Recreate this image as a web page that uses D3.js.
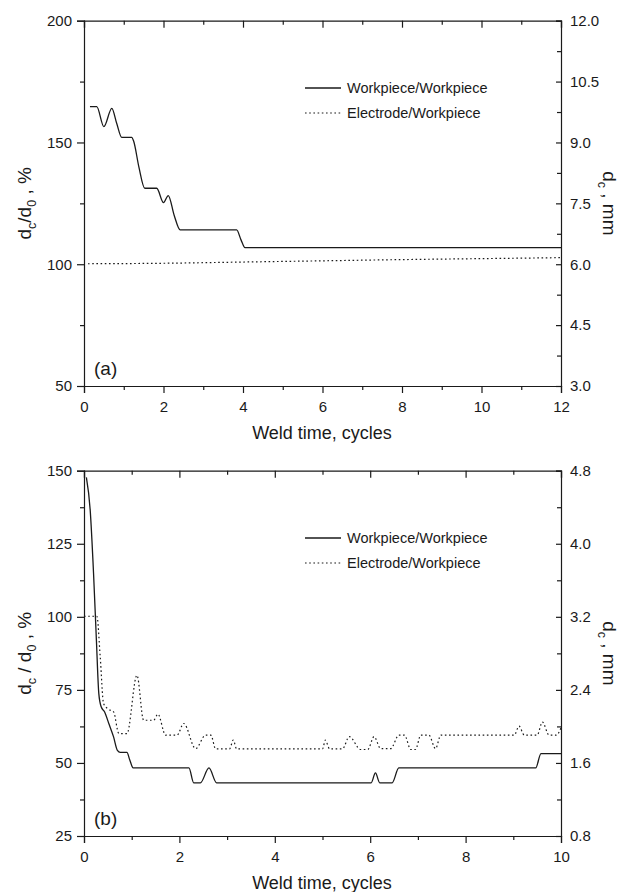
<!DOCTYPE html>
<html>
<head>
<meta charset="utf-8">
<script src="https://cdn.jsdelivr.net/npm/d3@7"></script>
<style>
  body { margin: 0; background: #fff; }
  svg { display: block; font-family: "Liberation Sans", Arial, sans-serif; }
  .axis path, .axis line { stroke: #1a1a1a; stroke-width: 1.2; }
  .axis text { font-size: 15px; fill: #1a1a1a; }
  .curve { fill: none; stroke: #1a1a1a; stroke-width: 1.3; }
  .dotted { stroke-dasharray: 1.6, 2.6; stroke-width: 1.2; }
</style>
</head>
<body>
<script>
// panel (a): contact diameter vs weld time, 0-12 cycles
const workA_t = [0.15, 0.32, 0.5, 0.7, 0.82, 0.95, 1.2, 1.25, 1.38, 1.53, 1.83, 2.0, 2.12, 2.27, 2.42, 3.84, 3.95, 4.05, 12];
const workA_v = [164.7, 164.7, 156.5, 164, 158, 152.1, 152.1, 150.5, 140, 131.2, 131.2, 125.3, 128.2, 120, 114.1, 114.1, 110, 106.8, 106.8];
const elecA_t = [0.1, 2, 4, 6, 8, 10, 12];
const elecA_v = [100.2, 100.4, 100.9, 101.4, 101.9, 102.3, 102.7];

// panel (b): 0-10 cycles
const workB_t = [0.05, 0.13, 0.2, 0.26, 0.31, 0.36, 0.43, 0.52, 0.62, 0.7, 0.76, 0.9, 0.96, 1.03, 2.2, 2.3, 2.44, 2.62, 2.78, 6.02, 6.11, 6.2, 6.46, 6.6, 9.47, 9.58, 10];
const workB_v = [147.7, 136.5, 114.9, 92, 73.8, 69.2, 67.5, 63.5, 58.9, 54.3, 53.6, 53.6, 51, 48.3, 48.3, 43.2, 43.2, 48.3, 43.2, 43.2, 46.6, 43.2, 43.2, 48.3, 48.3, 53.2, 53.2];
const elecB_t = [0, 0.27, 0.34, 0.41, 0.5, 0.62, 0.73, 0.9, 1.11, 1.25, 1.46, 1.55, 1.71, 1.95, 2.09, 2.34, 2.55, 2.66, 2.76, 3.05, 3.13, 3.2, 5.0, 5.06, 5.15, 5.42, 5.56, 5.8, 5.95, 6.08, 6.22, 6.43, 6.6, 6.72, 6.85, 6.95, 7.06, 7.23, 7.37, 7.48, 9.02, 9.12, 9.23, 9.5, 9.61, 9.75, 9.9, 10];
const elecB_v = [100.2, 100.2, 86.3, 70.3, 68.5, 67.5, 60.1, 60, 80, 64.6, 64.6, 66.7, 59.5, 59.5, 63.5, 54.9, 59.5, 59.5, 54.8, 54.8, 57.8, 54.8, 54.8, 57.8, 54.8, 54.8, 59, 54.6, 54.6, 59, 54.9, 54.9, 59.5, 59.5, 54.6, 54.6, 59.5, 59.5, 54.9, 59.5, 59.5, 62.6, 59.5, 59.5, 64, 59.5, 59.5, 62];

const legendLabels = ["Workpiece/Workpiece", "Electrode/Workpiece"];

// axis tick values
const xTicksA = [0, 2, 4, 6, 8, 10, 12];
const xMinorA = [1, 3, 5, 7, 9, 11];
const yTicksA = [50, 100, 150, 200];
const yMinorA = [75, 125, 175];
const rTicksA = [3.0, 4.5, 6.0, 7.5, 9.0, 10.5, 12.0];
const rMinorA = [3.75, 5.25, 6.75, 8.25, 9.75, 11.25];

const xTicksB = [0, 2, 4, 6, 8, 10];
const xMinorB = [1, 3, 5, 7, 9];
const yTicksB = [25, 50, 75, 100, 125, 150];
const yMinorB = [37.5, 62.5, 87.5, 112.5, 137.5];
const rTicksB = [0.8, 1.6, 2.4, 3.2, 4.0, 4.8];
const rMinorB = [1.2, 2.0, 2.8, 3.6, 4.4];

const W = 631, H = 892;
const svg = d3.select("body").append("svg").attr("width", W).attr("height", H);

function drawPanel(p) {
  const x = d3.scaleLinear().domain(p.xDomain).range([84, 561]);
  const y = d3.scaleLinear().domain(p.yDomain).range([p.bottom, p.top]);
  const yr = d3.scaleLinear().domain(p.rDomain).range([p.bottom, p.top]);
  const g = svg.append("g");

  const clipId = "clip-" + p.name;
  g.append("clipPath").attr("id", clipId)
    .append("rect").attr("x", 84).attr("y", p.top).attr("width", 477).attr("height", p.bottom - p.top);

  // bottom axis (ticks out)
  g.append("g").attr("class", "axis").attr("transform", `translate(0,${p.bottom})`)
    .call(d3.axisBottom(x).tickValues(p.xTicks).tickFormat(d3.format("d")).tickSize(7).tickPadding(8));
  g.append("g").attr("class", "axis").attr("transform", `translate(0,${p.bottom})`)
    .call(d3.axisBottom(x).tickValues(p.xMinor).tickFormat("").tickSize(4))
    .select(".domain").remove();
  // top axis (ticks in)
  g.append("g").attr("class", "axis").attr("transform", `translate(0,${p.top})`)
    .call(d3.axisTop(x).tickValues(p.xTicks).tickFormat("").tickSize(-7));
  g.append("g").attr("class", "axis").attr("transform", `translate(0,${p.top})`)
    .call(d3.axisTop(x).tickValues(p.xMinor).tickFormat("").tickSize(-4))
    .select(".domain").remove();
  // left axis (ticks out)
  g.append("g").attr("class", "axis").attr("transform", "translate(84,0)")
    .call(d3.axisLeft(y).tickValues(p.yTicks).tickFormat(d3.format("d")).tickSize(7).tickPadding(5));
  g.append("g").attr("class", "axis").attr("transform", "translate(84,0)")
    .call(d3.axisLeft(y).tickValues(p.yMinor).tickFormat("").tickSize(4))
    .select(".domain").remove();
  // right axis (ticks in)
  g.append("g").attr("class", "axis").attr("transform", "translate(561,0)")
    .call(d3.axisRight(yr).tickValues(p.rTicks).tickFormat(d3.format(".1f")).tickSize(-5).tickPadding(9));
  g.append("g").attr("class", "axis").attr("transform", "translate(561,0)")
    .call(d3.axisRight(yr).tickValues(p.rMinor).tickFormat("").tickSize(-4))
    .select(".domain").remove();
  g.selectAll(".axis .domain").attr("fill", "none");

  const line = d3.line().x(d => x(d[0])).y(d => y(d[1])).curve(d3.curveMonotoneX);
  const plot = g.append("g").attr("clip-path", `url(#${clipId})`);
  plot.append("path").attr("class", "curve")
    .attr("d", line(d3.zip(p.work_t, p.work_v)));
  plot.append("path").attr("class", "curve dotted")
    .attr("d", line(d3.zip(p.elec_t, p.elec_v)));

  // legend
  const lg = g.append("g");
  legendLabels.forEach((lab, i) => {
    const ly = p.legendY + i * 25;
    lg.append("line").attr("class", "curve" + (i ? " dotted" : ""))
      .attr("x1", 305).attr("x2", 341).attr("y1", ly).attr("y2", ly);
    lg.append("text").attr("x", 347).attr("y", ly).attr("dy", "0.35em")
      .attr("font-size", 14.5).attr("fill", "#1a1a1a").text(lab);
  });

  // panel tag
  g.append("text").attr("x", 94).attr("y", p.bottom - 18).attr("dy", "0.35em")
    .attr("font-size", 19).attr("fill", "#1a1a1a").text(p.tag);

  // x title
  g.append("text").attr("x", 322).attr("y", p.bottom + 53)
    .attr("text-anchor", "middle").attr("font-size", 18).attr("fill", "#1a1a1a")
    .text("Weld time, cycles");

  const mid = (p.top + p.bottom) / 2;
  // left title
  const lt = g.append("text").attr("transform", `translate(31,${mid}) rotate(-90)`)
    .attr("text-anchor", "middle").attr("font-size", 19).attr("fill", "#1a1a1a");
  lt.append("tspan").text("d");
  lt.append("tspan").attr("font-size", 12.5).attr("dy", 5).text("c");
  lt.append("tspan").attr("dy", -5).text(p.slash);
  lt.append("tspan").attr("font-size", 12.5).attr("dy", 5).text("0");
  lt.append("tspan").attr("dy", -5).text(" , %");

  // right title
  const rt = g.append("text").attr("transform", `translate(603,${mid}) rotate(90)`)
    .attr("text-anchor", "middle").attr("font-size", 19).attr("fill", "#1a1a1a");
  rt.append("tspan").text("d");
  rt.append("tspan").attr("font-size", 12.5).attr("dy", 5).text("c");
  rt.append("tspan").attr("dy", -5).text(" , mm");
}

drawPanel({
  name: "a", tag: "(a)", top: 20.7, bottom: 386, legendY: 88,
  xDomain: [0, 12], yDomain: [50, 200], rDomain: [3, 12],
  xTicks: xTicksA, xMinor: xMinorA, yTicks: yTicksA, yMinor: yMinorA,
  rTicks: rTicksA, rMinor: rMinorA, slash: "/d",
  work_t: workA_t, work_v: workA_v, elec_t: elecA_t, elec_v: elecA_v
});

drawPanel({
  name: "b", tag: "(b)", top: 470.7, bottom: 836, legendY: 538,
  xDomain: [0, 10], yDomain: [25, 150], rDomain: [0.8, 4.8],
  xTicks: xTicksB, xMinor: xMinorB, yTicks: yTicksB, yMinor: yMinorB,
  rTicks: rTicksB, rMinor: rMinorB, slash: " / d",
  work_t: workB_t, work_v: workB_v, elec_t: elecB_t, elec_v: elecB_v
});
</script>
</body>
</html>
